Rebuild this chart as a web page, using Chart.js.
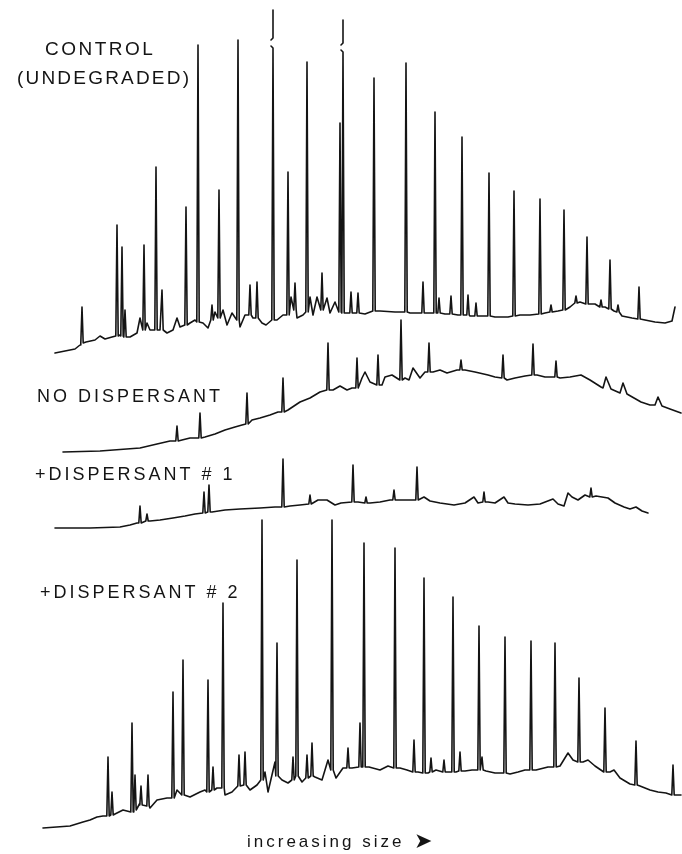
<!DOCTYPE html>
<html lang="en">
<head>
<meta charset="UTF-8">
<title>Chromatograms</title>
<script src="https://cdn.jsdelivr.net/npm/chart.js"></script>
<style>
  html, body { margin: 0; padding: 0; background: #fff; }
  #wrap { width: 682px; height: 854px; }
</style>
</head>
<body>
<div id="wrap"><canvas id="gc" width="682" height="854"></canvas></div>
<script>
// x = scan number, y = detector signal (each trace already offset on the plot)
// baselines: [scan, signal]; peaks: [scan, foot, top, breakLow?, breakHigh?]

const controlBaseline = [
  [55,501],[65,503],[75,505],[80,509],[86,512],[95,514],[100,518],[105,515],[112,517],[120,519],
  [130,517],[137,521],[140,536],[147,531],[150,524],[160,524],[167,521],[173,524],[177,536],[180,527],
  [190,531],[195,534],[203,531],[208,526],[215,542],[223,544],[227,529],[232,541],[240,527],[245,539],
  [253,536],[262,531],[266,529],[277,534],[283,539],[291,557],[297,536],[303,539],[310,557],[313,539],
  [317,557],[327,556],[330,541],[335,552],[347,541],[355,541],[365,540],[380,543],[395,542],[410,541],
  [430,541],[445,540],[458,539],[470,538],[484,538],[495,537],[508,537],[520,539],[530,539],[545,541],
  [558,543],[570,547],[580,552],[595,550],[605,547],[614,543],[622,538],[632,536],[645,534],[655,532],
  [665,531],[672,533],[675,547]
];
const controlPeaks = [
  [82,511,547],[117,518,629],[122,518,607],[125,517,544],[144,524,609],[156,524,687],[162,524,564],
  [186,529,647],[198,532,809],[212,534,549],[219,536,664],[238,534,814],[250,539,569],[257,536,572],
  [273,534,844,806,816],[288,539,682],[295,544,571],[307,542,792],[322,544,581],[340,542,731],
  [343,541,834,802,811],[351,541,562],[358,541,561],[374,543,776],[406,542,791],[423,541,572],
  [435,541,742],[439,541,556],[451,540,558],[462,539,717],[468,539,559],[476,538,551],[489,538,681],
  [514,538,663],[540,540,655],[551,542,549],[564,544,644],[576,551,558],[587,550,617],[601,547,554],
  [610,545,594],[618,542,549],[639,535,567]
];

const noDispBaseline = [
  [63,402],[100,403],[140,406],[157,410],[170,413],[182,414],[190,416],[205,417],[215,420],[225,424],
  [235,427],[242,429],[252,434],[260,436],[270,439],[278,442],[288,444],[300,452],[310,456],[320,462],
  [333,464],[340,468],[347,464],[352,466],[362,476],[365,482],[370,472],[382,469],[385,477],[392,479],
  [405,476],[409,474],[413,486],[420,476],[425,482],[433,482],[440,484],[447,481],[457,484],[465,484],
  [475,482],[488,479],[495,477],[507,474],[515,476],[525,478],[537,479],[545,477],[560,476],[570,477],
  [581,479],[590,474],[601,467],[603,466],[606,477],[611,465],[620,461],[623,471],[627,460],[641,452],
  [650,449],[655,449],[658,457],[662,448],[670,445],[681,441]
];
const noDispPeaks = [
  [177,413,428],[200,416,441],[247,430,461],[283,442,476],[328,464,511],[357,466,496],[378,469,499],
  [401,474,534],[429,482,511],[461,484,494],[503,476,499],[533,479,510],[556,477,493]
];

const disp1Baseline = [
  [55,326],[90,326],[120,327],[130,329],[137,331],[150,333],[160,334],[173,336],[185,338],[195,340],
  [212,342],[225,344],[240,345],[260,346],[275,347],[290,348],[300,349],[318,354],[327,354],[335,349],
  [341,351],[358,352],[370,351],[380,352],[390,354],[400,354],[410,354],[424,357],[430,353],[440,351],
  [454,349],[465,351],[474,357],[478,351],[488,352],[495,351],[504,357],[508,351],[515,350],[528,349],
  [540,350],[553,355],[558,350],[564,348],[568,361],[572,357],[578,354],[585,359],[596,358],[602,357],
  [608,356],[615,351],[624,347],[630,345],[636,347],[642,343],[648,341]
];
const disp1Peaks = [
  [140,331,348],[147,333,340],[204,341,362],[209,342,369],[283,347,395],[310,350,359],[353,352,389],
  [366,351,357],[394,354,364],[417,354,387],[484,352,362],[591,357,366]
];

const disp2Baseline = [
  [43,26],[70,28],[83,32],[90,34],[97,37],[103,38],[115,40],[123,44],[140,51],[150,46],
  [157,54],[167,56],[177,64],[190,57],[200,62],[205,64],[217,66],[225,59],[232,62],[250,64],
  [257,69],[265,82],[268,62],[275,92],[282,74],[288,71],[302,72],[315,77],[322,74],[328,94],
  [336,76],[343,86],[352,86],[369,87],[380,84],[388,88],[400,86],[407,84],[418,82],[428,81],
  [436,84],[448,82],[456,82],[465,83],[472,84],[486,83],[495,81],[510,80],[518,82],[525,84],
  [536,84],[548,87],[560,88],[568,101],[573,94],[583,92],[588,94],[595,88],[610,82],[614,84],
  [620,76],[630,70],[640,68],[650,64],[658,62],[666,61],[677,59],[681,59]
];
const disp2Peaks = [
  [108,38,97],[112,39,62],[132,42,131],[135,44,79],[141,49,68],[148,48,79],[173,56,162],[183,59,194],
  [208,62,174],[213,64,87],[223,66,251],[239,68,99],[245,69,102],[262,74,334],[277,78,211],[293,74,97],
  [297,78,294],[307,76,99],[312,78,111],[332,84,334],[348,86,106],[360,87,131],[364,87,311],[395,86,306],
  [414,82,114],[424,81,276],[431,82,96],[444,82,94],[453,82,257],[460,83,102],[479,84,228],[482,84,97],
  [505,81,217],[531,84,213],[555,87,211],[579,92,176],[605,82,146],[636,69,113],[673,59,89]
];

const traceNames = ['CONTROL', '(UNDEGRADED)', 'NO DISPERSANT', '+DISPERSANT # 1', '+DISPERSANT # 2'];
const axisNote = 'increasing size';
const axisArrow = '\u27A4';

// merge baseline points and peak spikes in scan order
function buildTrace(baseline, peaks) {
  const w = 1.2;
  const groups = baseline.map(([x, y]) => ({ x, pts: [{ x, y }] }));
  peaks.forEach(([x, foot, top, lo, hi]) => {
    let pts;
    if (lo !== undefined) {
      // off-scale peak, drawn with a break and little hooks at the cut
      pts = [
        { x: x - w, y: foot }, { x, y: lo }, { x: x - 2, y: lo + 2 }, { x: x - 2, y: null },
        { x: x - 2, y: hi - 2 }, { x, y: hi }, { x, y: top },
        { x, y: null }, { x, y: lo }, { x: x + w, y: foot }
      ];
    } else {
      pts = [{ x: x - w, y: foot }, { x, y: top }, { x: x + w, y: foot }];
    }
    groups.push({ x, pts });
  });
  groups.sort((a, b) => a.x - b.x);
  return groups.flatMap(g => g.pts);
}

const ink = '#141414';
function trace(data) {
  return {
    data, borderColor: ink, borderWidth: 1.6, pointRadius: 0, tension: 0,
    spanGaps: false, fill: false, borderJoinStyle: 'round', borderCapStyle: 'round'
  };
}

const captions = [
  { text: traceNames[0], x: 45, y: 804, size: 19, gap: 2.5 },
  { text: traceNames[1], x: 17, y: 775, size: 19, gap: 2.2 },
  { text: traceNames[2], x: 37, y: 457, size: 18, gap: 3 },
  { text: traceNames[3], x: 35, y: 379, size: 18, gap: 3 },
  { text: traceNames[4], x: 40, y: 261, size: 18, gap: 3 },
  { text: axisNote, x: 247, y: 12, size: 17, gap: 3 },
  { text: axisArrow, x: 414, y: 12, size: 22, gap: 0 }
];

const captionPlugin = {
  id: 'captions',
  afterDraw(chart) {
    const { ctx, scales: { x, y } } = chart;
    ctx.save();
    ctx.fillStyle = ink;
    ctx.textBaseline = 'middle';
    ctx.textAlign = 'left';
    captions.forEach(c => {
      ctx.font = c.size + 'px "Liberation Sans", "DejaVu Sans", sans-serif';
      ctx.letterSpacing = c.gap + 'px';
      ctx.fillText(c.text, x.getPixelForValue(c.x), y.getPixelForValue(c.y));
    });
    ctx.restore();
  }
};

new Chart(document.getElementById('gc'), {
  type: 'line',
  data: {
    datasets: [
      trace(buildTrace(controlBaseline, controlPeaks)),
      trace(buildTrace(noDispBaseline, noDispPeaks)),
      trace(buildTrace(disp1Baseline, disp1Peaks)),
      trace(buildTrace(disp2Baseline, disp2Peaks))
    ]
  },
  options: {
    responsive: false,
    animation: false,
    devicePixelRatio: 1,
    layout: { padding: 0 },
    plugins: { legend: { display: false }, tooltip: { enabled: false } },
    scales: {
      x: { type: 'linear', min: 0, max: 682, display: false },
      y: { type: 'linear', min: 0, max: 854, display: false }
    }
  },
  plugins: [captionPlugin]
});
</script>
</body>
</html>
